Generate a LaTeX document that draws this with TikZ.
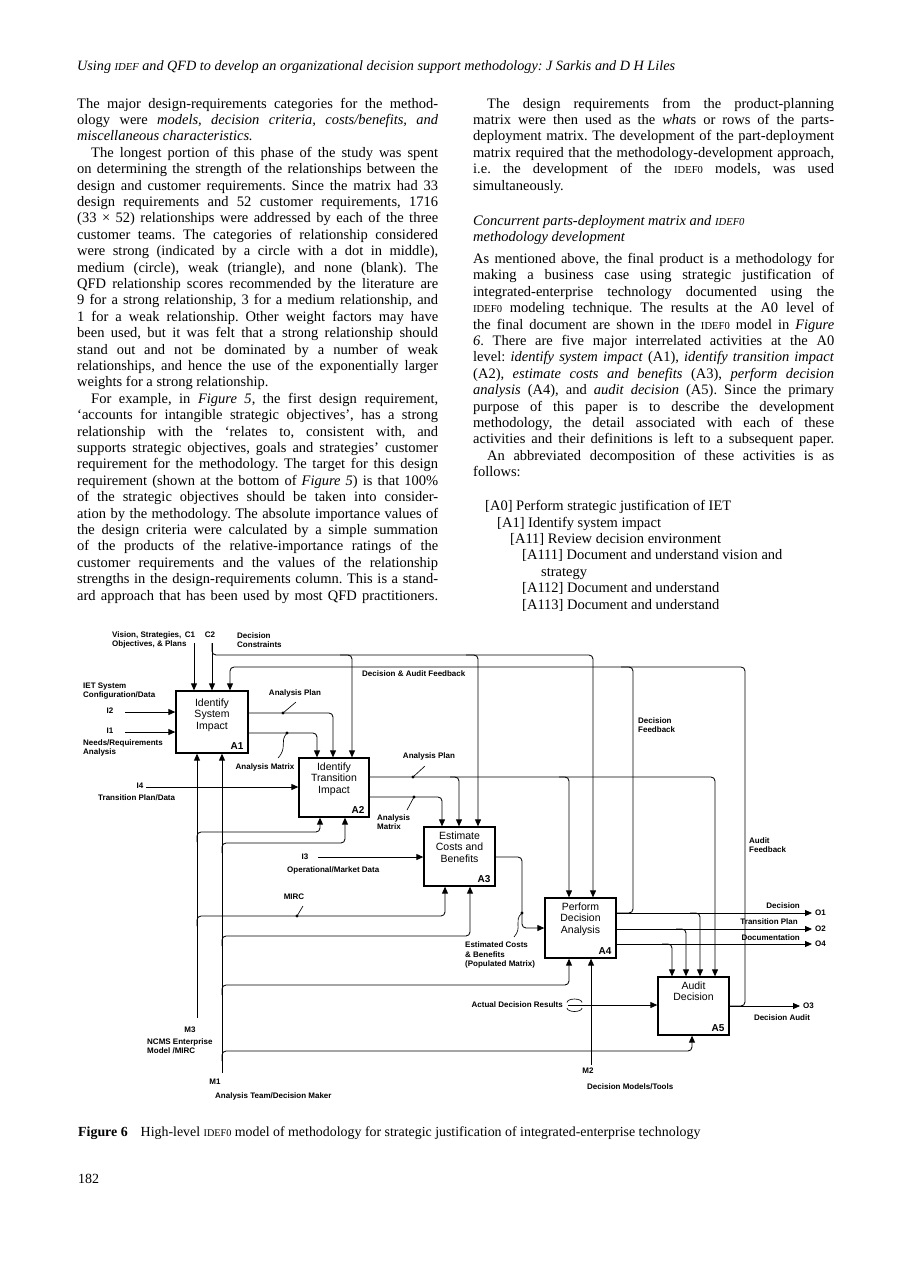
\documentclass[tikz,border=0pt]{standalone}
\usepackage{fontspec}
\setmainfont{Liberation Serif}
\newfontfamily\dgsans{Liberation Sans}
\usetikzlibrary{arrows.meta}
\frenchspacing
\newcommand\jline[1]{\hbox to\hsize{#1}}
\newcommand\lline[1]{\hbox to\hsize{#1\hfil}}
\newcommand\iline[1]{\hbox to\hsize{\hskip 14pt #1}}
\newcommand\smc[1]{{\fontsize{10.6}{10}\selectfont #1}}
\newcommand\labf{\dgsans\bfseries\fontsize{8}{9.6}\selectfont}
\newcommand\boxf{\dgsans\fontsize{10.5}{11.8}\selectfont}
\newcommand\idf{\dgsans\bfseries\fontsize{10}{11}\selectfont}
\begin{document}
\begin{tikzpicture}[x=1pt,y=-1pt,
  conn/.style={line width=0.85pt, rounded corners=4pt},
  arr/.style={conn, -{Triangle[length=7pt,width=6pt]}},
  pbox/.style={draw, line width=1.3pt, inner sep=0pt},
  btxt/.style={font=\boxf, align=center, inner sep=0pt},
  bid/.style={font=\idf, inner sep=0pt},
  lab/.style={font=\labf, inner sep=0pt, align=left},
  dotn/.style={circle, fill, inner sep=0pt, minimum size=3.4pt},
  lead/.style={line width=0.65pt}]
\useasboundingbox[fill=white] (0,0) rectangle (918,1275);

% ---------------- page text ----------------
\node[anchor=base west, inner sep=0pt] (header) at (77,70)
  {\fontsize{14.2}{16}\selectfont\itshape Using \smc{IDEF} and QFD to develop an organizational decision support methodology: J Sarkis and D H Liles};

\node[anchor=base west, inner sep=0pt] (leftcol) at (77,108) {\vtop{\hsize=361pt\fontsize{14.5}{16.4}\selectfont\lineskiplimit=-100pt
\jline{The major design-requirements categories for the method-}
\jline{ology were \textit{models, decision criteria, costs/benefits, and}}
\lline{\textit{miscellaneous characteristics.}}
\iline{The longest portion of this phase of the study was spent}
\jline{on determining the strength of the relationships between the}
\jline{design and customer requirements. Since the matrix had 33}
\jline{design requirements and 52 customer requirements, 1716}
\jline{(33 × 52) relationships were addressed by each of the three}
\jline{customer teams. The categories of relationship considered}
\jline{were strong (indicated by a circle with a dot in middle),}
\jline{medium (circle), weak (triangle), and none (blank). The}
\jline{QFD relationship scores recommended by the literature are}
\jline{9 for a strong relationship, 3 for a medium relationship, and}
\jline{1 for a weak relationship. Other weight factors may have}
\jline{been used, but it was felt that a strong relationship should}
\jline{stand out and not be dominated by a number of weak}
\jline{relationships, and hence the use of the exponentially larger}
\lline{weights for a strong relationship.}
\iline{For example, in \textit{Figure 5}, the first design requirement,}
\jline{‘accounts for intangible strategic objectives’, has a strong}
\jline{relationship with the ‘relates to, consistent with, and}
\jline{supports strategic objectives, goals and strategies’ customer}
\jline{requirement for the methodology. The target for this design}
\jline{requirement (shown at the bottom of \textit{Figure 5}) is that 100\%}
\jline{of the strategic objectives should be taken into consider-}
\jline{ation by the methodology. The absolute importance values of}
\jline{the design criteria were calculated by a simple summation}
\jline{of the products of the relative-importance ratings of the}
\jline{customer requirements and the values of the relationship}
\jline{strengths in the design-requirements column. This is a stand-}
\jline{ard approach that has been used by most QFD practitioners.}
}};

\node[anchor=base west, inner sep=0pt] (rightcol) at (473,108) {\vtop{\hsize=361pt\fontsize{14.5}{16.4}\selectfont\lineskiplimit=-100pt
\iline{The design requirements from the product-planning}
\jline{matrix were then used as the \textit{what}s or rows of the parts-}
\jline{deployment matrix. The development of the part-deployment}
\jline{matrix required that the methodology-development approach,}
\jline{i.e. the development of the \smc{IDEF0} models, was used}
\lline{simultaneously.}
\vskip 18.6pt
\lline{\textit{Concurrent parts-deployment matrix and \smc{IDEF0}}}
\lline{\textit{methodology development}}
\vskip 5.6pt
\jline{As mentioned above, the final product is a methodology for}
\jline{making a business case using strategic justification of}
\jline{integrated-enterprise technology documented using the}
\jline{\smc{IDEF0} modeling technique. The results at the A0 level of}
\jline{the final document are shown in the \smc{IDEF0} model in \textit{Figure}}
\jline{\textit{6}. There are five major interrelated activities at the A0}
\jline{level: \textit{identify system impact} (A1), \textit{identify transition impact}}
\jline{(A2), \textit{estimate costs and benefits} (A3), \textit{perform decision}}
\jline{\textit{analysis} (A4), and \textit{audit decision} (A5). Since the primary}
\jline{purpose of this paper is to describe the development}
\jline{methodology, the detail associated with each of these}
\jline{activities and their definitions is left to a subsequent paper.}
\iline{An abbreviated decomposition of these activities is as}
\lline{follows:}
\vskip 17.6pt
\lline{\hskip 12pt [A0] Perform strategic justification of IET}
\lline{\hskip 24pt [A1] Identify system impact}
\lline{\hskip 37pt [A11] Review decision environment}
\lline{\hskip 49pt [A111] Document and understand vision and}
\lline{\hskip 68pt strategy}
\lline{\hskip 49pt [A112] Document and understand}
\lline{\hskip 49pt [A113] Document and understand}
}};

\node[anchor=base west, inner sep=0pt] (caption) at (78,1136)
  {\fontsize{13.9}{15}\selectfont\textbf{Figure 6}\hskip 13pt High-level {\fontsize{10.2}{10}\selectfont IDEF0} model of methodology for strategic justification of integrated-enterprise technology};
\node[anchor=base west, inner sep=0pt] (pagenum) at (78,1183) {\fontsize{14}{16}\selectfont 182};

% ---------------- boxes ----------------
\node[pbox, minimum width=72pt, minimum height=62pt] (A1) at (212,722) {};
\node[pbox, minimum width=70pt, minimum height=59pt] (A2) at (334,787.5) {};
\node[pbox, minimum width=71pt, minimum height=59pt] (A3) at (459.5,856.5) {};
\node[pbox, minimum width=71pt, minimum height=60pt] (A4) at (580.5,928) {};
\node[pbox, minimum width=71pt, minimum height=58pt] (A5) at (693.5,1006) {};

\node[btxt, anchor=north] (A1t) at ([yshift=-8pt]A1.north) {Identify\\System\\Impact};
\node[btxt, anchor=north] (A2t) at ([yshift=-5pt]A2.north) {Identify\\Transition\\Impact};
\node[btxt, anchor=north] (A3t) at ([yshift=-5pt]A3.north) {Estimate\\Costs and\\Benefits};
\node[btxt, anchor=north] (A4t) at ([yshift=-5pt]A4.north) {Perform\\Decision\\Analysis};
\node[btxt, anchor=north] (A5t) at ([yshift=-5pt]A5.north) {Audit\\Decision};
\node[bid, anchor=south east] (A1n) at ([xshift=-5pt,yshift=4pt]A1.south east) {A1};
\node[bid, anchor=south east] (A2n) at ([xshift=-5pt,yshift=4pt]A2.south east) {A2};
\node[bid, anchor=south east] (A3n) at ([xshift=-5pt,yshift=4pt]A3.south east) {A3};
\node[bid, anchor=south east] (A4n) at ([xshift=-5pt,yshift=4pt]A4.south east) {A4};
\node[bid, anchor=south east] (A5n) at ([xshift=-5pt,yshift=4pt]A5.south east) {A5};

% ---------------- controls ----------------
\coordinate (C1s) at (194,643);
\coordinate (C2s) at (212,643);
\draw[arr] (C1s) -- (C1s |- A1.north);
\draw[arr] (C2s) -- (C2s |- A1.north);
\draw[arr] (C2s) -- (212,655) -- (593,655) -- (593,0 |- A4.north);
\draw[arr] (340,655) -- (352,655) -- (352,0 |- A2.north);
\draw[arr] (466,655) -- (478,655) -- (478,0 |- A3.north);

% feedback
\draw[arr] (A5.east |- 0,1006) -- (745,1006) -- (745,667) -- (230,667) -- (230,0 |- A1.north);
\draw[conn] (A4.east |- 0,913) -- (633,913) -- (633,667) -- (621,667);

% ---------------- outputs ----------------
\draw[arr] (A1.east |- 0,713) -- (333,713) -- (333,0 |- A2.north);
\draw[arr] (A1.east |- 0,733) -- (317,733) -- (317,0 |- A2.north);
\draw[arr] (A2.east |- 0,777) -- (715,777) -- (715,0 |- A5.north);
\draw[arr] (450,777) -- (459,777) -- (459,0 |- A3.north);
\draw[arr] (559,777) -- (569,777) -- (569,0 |- A4.north);
\draw[arr] (A2.east |- 0,797) -- (442,797) -- (442,0 |- A3.north);
\draw[arr] (A3.east |- 0,857) -- (522,857) -- (522,928) -- (A4.west |- 0,928);
\draw[arr] (A4.east |- 0,913) -- (812,913);
\draw[arr] (A4.east |- 0,929) -- (812,929);
\draw[arr] (A4.east |- 0,944) -- (812,944);
\draw[arr] (690,913) -- (700,913) -- (700,0 |- A5.north);
\draw[arr] (676,929) -- (686,929) -- (686,0 |- A5.north);
\draw[arr] (662,944) -- (672,944) -- (672,0 |- A5.north);
\draw[arr] (A5.east |- 0,1006) -- (800,1006);

% ---------------- inputs ----------------
\coordinate (I2s) at (125,712);
\coordinate (I1s) at (125,732);
\coordinate (I4s) at (146,787);
\coordinate (I3s) at (318,857);
\coordinate (ADs) at (568,1005);
\draw[arr] (I2s) -- (A1.west |- I2s);
\draw[arr] (I1s) -- (A1.west |- I1s);
\draw[arr] (I4s) -- (A2.west |- I4s);
\draw[arr] (I3s) -- (A3.west |- I3s);
\draw[arr] (ADs) -- (A5.west |- ADs);
\draw[lead] (567,1002.5) arc[start angle=180, end angle=0, x radius=7.5pt, y radius=3.5pt];
\draw[lead] (567,1008) arc[start angle=180, end angle=360, x radius=7.5pt, y radius=3.5pt];

% ---------------- mechanisms ----------------
\coordinate (M3s) at (197,1018);
\coordinate (M1s) at (222,1073);
\coordinate (M2s) at (591,1065);
\draw[arr] (M3s) -- (M3s |- A1.south);
\draw[arr] (197,842) -- (197,832) -- (320,832) -- (320,0 |- A2.south);
\draw[arr] (197,926) -- (197,916) -- (445,916) -- (445,0 |- A3.south);
\draw[arr] (M1s) -- (M1s |- A1.south);
\draw[arr] (222,853) -- (222,843) -- (345,843) -- (345,0 |- A2.south);
\draw[arr] (222,946) -- (222,936) -- (470,936) -- (470,0 |- A3.south);
\draw[arr] (222,995) -- (222,985) -- (569,985) -- (569,0 |- A4.south);
\draw[arr] (222,1061) -- (222,1051) -- (692,1051) -- (692,0 |- A5.south);
\draw[arr] (M2s) -- (M2s |- A4.south);

% ---------------- dots and leaders ----------------
\node[dotn] (d1) at (283,713) {};
\draw[lead] (d1.center) -- (296,702);
\node[dotn] (d2) at (287,733) {};
\draw[lead] (d2.center) .. controls (279,742) and (288,747) .. (278,758);
\node[dotn] (d3) at (413,777) {};
\draw[lead] (d3.center) -- (425,766);
\node[dotn] (d4) at (414,797) {};
\draw[lead] (d4.center) -- (407,810);
\node[dotn] (d5) at (297,916) {};
\draw[lead] (d5.center) -- (303,906);
\node[dotn] (d6) at (522,913) {};
\draw[lead] (d6.center) .. controls (513,921) and (523,927) .. (514,937);

% ---------------- labels ----------------
\node[lab, anchor=west] (Lvis) at (112,640) {Vision, Strategies,\\Objectives, \& Plans};
\node[lab] (Lc1) at (190,635) {C1};
\node[lab] (Lc2) at (210,635) {C2};
\node[lab, anchor=west] (Ldc) at (237,640) {Decision\\Constraints};
\node[lab, anchor=west] (Ldaf) at (362,674) {Decision \& Audit Feedback};
\node[lab, anchor=west] (Liet) at (83,691) {IET System\\Configuration/Data};
\node[lab] (Li2) at (110,711) {I2};
\node[lab] (Li1) at (110,731) {I1};
\node[lab, anchor=west] (Lneeds) at (83,748) {Needs/Requirements\\Analysis};
\node[lab] (Li4) at (140,786) {I4};
\node[lab, anchor=west] (Ltpd) at (98,798) {Transition Plan/Data};
\node[lab] (Lap1) at (295,693) {Analysis Plan};
\node[lab] (Lam1) at (265,767) {Analysis Matrix};
\node[lab] (Lap2) at (429,756) {Analysis Plan};
\node[lab, anchor=west] (Lam2) at (377,822) {Analysis\\Matrix};
\node[lab] (Li3) at (305,857) {I3};
\node[lab, anchor=west] (Lomd) at (287,870) {Operational/Market Data};
\node[lab] (Lmirc) at (294,897) {MIRC};
\node[lab, anchor=west] (Lecb) at (465,955) {Estimated Costs\\\& Benefits\\(Populated Matrix)};
\node[lab, anchor=west] (Ldf) at (638,725) {Decision\\Feedback};
\node[lab, anchor=west] (Laf) at (749,845) {Audit\\Feedback};
\node[lab, anchor=east] (Ldec) at (800,906) {Decision};
\node[lab, anchor=east] (Ltp) at (798,922) {Transition Plan};
\node[lab, anchor=east] (Ldoc) at (800,938) {Documentation};
\node[lab, anchor=west] (Lo1) at (815,913) {O1};
\node[lab, anchor=west] (Lo2) at (815,929) {O2};
\node[lab, anchor=west] (Lo4) at (815,944) {O4};
\node[lab, anchor=west] (Lo3) at (803,1006) {O3};
\node[lab] (Lda) at (782,1018) {Decision Audit};
\node[lab, anchor=east] (Ladr) at (563,1005) {Actual Decision Results};
\node[lab] (Lm3) at (190,1030) {M3};
\node[lab, anchor=west] (Lncms) at (147,1046) {NCMS Enterprise\\Model /MIRC};
\node[lab] (Lm1) at (215,1082) {M1};
\node[lab, anchor=west] (Latdm) at (215,1096) {Analysis Team/Decision Maker};
\node[lab] (Lm2) at (588,1071) {M2};
\node[lab, anchor=west] (Ldmt) at (587,1087) {Decision Models/Tools};
\end{tikzpicture}
\end{document}
